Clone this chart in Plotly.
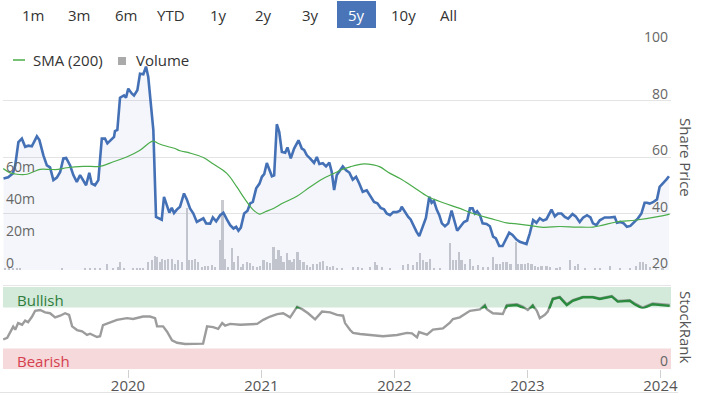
import plotly.graph_objects as go
import pandas as pd

# ---------------- data (dates given as decimal years) ----------------
price_t = [2019.064, 2019.099, 2019.134, 2019.152, 2019.176, 2019.202, 2019.227, 2019.251, 2019.277, 2019.315,
           2019.334, 2019.364, 2019.390, 2019.414, 2019.439, 2019.465, 2019.490, 2019.514, 2019.535, 2019.565,
           2019.589, 2019.615, 2019.640, 2019.664, 2019.685, 2019.709, 2019.727, 2019.752, 2019.777, 2019.803,
           2019.827, 2019.845, 2019.870, 2019.895, 2019.902, 2019.920, 2019.940, 2019.970, 2019.985, 2020.002,
           2020.028, 2020.045, 2020.070, 2020.090, 2020.115, 2020.135, 2020.152, 2020.178, 2020.190, 2020.210,
           2020.227, 2020.253, 2020.270, 2020.291, 2020.310, 2020.328, 2020.345, 2020.366, 2020.390, 2020.420,
           2020.441, 2020.465, 2020.490, 2020.516, 2020.541, 2020.565, 2020.586, 2020.616, 2020.636, 2020.661,
           2020.691, 2020.715, 2020.741, 2020.766, 2020.791, 2020.811, 2020.828, 2020.846, 2020.871, 2020.896,
           2020.916, 2020.936, 2020.961, 2020.986, 2021.004, 2021.021, 2021.041, 2021.061, 2021.079, 2021.096,
           2021.116, 2021.134, 2021.154, 2021.179, 2021.196, 2021.221, 2021.246, 2021.279, 2021.304, 2021.321,
           2021.342, 2021.366, 2021.396, 2021.417, 2021.436, 2021.462, 2021.486, 2021.511, 2021.529, 2021.547,
           2021.567, 2021.592, 2021.612, 2021.637, 2021.661, 2021.687, 2021.712, 2021.736, 2021.762, 2021.792,
           2021.822, 2021.847, 2021.872, 2021.897, 2021.922, 2021.942, 2021.967, 2021.992, 2022.017, 2022.042,
           2022.055, 2022.080, 2022.104, 2022.122, 2022.147, 2022.167, 2022.187, 2022.212, 2022.237, 2022.262,
           2022.280, 2022.297, 2022.318, 2022.337, 2022.357, 2022.380, 2022.405, 2022.430, 2022.455, 2022.472,
           2022.498, 2022.523, 2022.547, 2022.568, 2022.588, 2022.605, 2022.622, 2022.643, 2022.663, 2022.693,
           2022.718, 2022.742, 2022.763, 2022.788, 2022.813, 2022.838, 2022.863, 2022.888, 2022.918, 2022.943,
           2022.968, 2022.993, 2023.018, 2023.043, 2023.068, 2023.093, 2023.118, 2023.143, 2023.181, 2023.206,
           2023.230, 2023.256, 2023.281, 2023.306, 2023.339, 2023.363, 2023.393, 2023.418, 2023.448, 2023.474,
           2023.493, 2023.519, 2023.544, 2023.581, 2023.619, 2023.656, 2023.673, 2023.699, 2023.724, 2023.748,
           2023.774, 2023.799, 2023.831, 2023.857, 2023.881, 2023.899, 2023.919, 2023.944, 2023.974, 2023.994,
           2024.019, 2024.044, 2024.064]
price_v = [52.4, 52.8, 54.2, 57, 65.3, 66.5, 63.6, 64, 63.8, 67.3,
           66, 60.6, 57, 56.3, 51.8, 52.7, 54.7, 59.5, 59.7, 57,
           53.6, 51.2, 53.6, 51.8, 50, 54.4, 50.6, 50, 51.8, 66.5,
           66.5, 64.8, 66, 67.1, 69.2, 69.6, 81, 81.8, 81, 84.2,
           82.5, 81.8, 83.6, 89.5, 89.3, 92, 88.3, 76.5, 69.5, 38.8,
           38.5, 37.8, 45.9, 43, 40.3, 42, 40.2, 41.4, 42.4, 47.1,
           45, 41.8, 40, 37, 37.6, 38.3, 36.5, 36.4, 38.6, 37.2,
           39.4, 40.3, 37.9, 35.9, 34.7, 35.3, 33.9, 35, 40, 41,
           43.6, 44.1, 48.9, 50.6, 53, 53.9, 57.9, 55.1, 53.2, 53.5,
           71.6, 68.9, 61.8, 61.5, 63.4, 59.5, 63, 65.9, 63, 62.5,
           60.6, 59.5, 57.9, 60, 57.5, 57.8, 56.7, 58, 54.7, 48.3,
           53.6, 55.3, 56.7, 55.3, 54.5, 52, 53, 50.6, 47.7, 48.2,
           46.1, 44.1, 43.6, 42, 41.5, 40, 39.4, 40.5, 40.5, 41,
           42.4, 40.5, 38.8, 37.9, 35.3, 33.5, 32, 35, 38.4, 45.9,
           43.8, 44.5, 41.4, 39.5, 36.5, 35.5, 36.5, 41, 37, 33.9,
           35.5, 37, 37.5, 41.8, 41.8, 40, 40.8, 39.4, 36.5, 36.3,
           35.5, 31.8, 31.2, 28.5, 28.5, 30.8, 33.2, 32.4, 30.8, 30,
           29.6, 29.2, 33, 37.7, 36.7, 38.3, 37.5, 38, 41.4, 39,
           40, 40, 38.8, 38.2, 39.8, 39, 37, 38.5, 39.4, 38.6,
           36.5, 35.9, 37.6, 38.6, 38.6, 38.8, 36.7, 37, 36.5, 35.3,
           35.6, 36.8, 38.3, 40, 43.8, 43.8, 43.5, 44, 45, 49.4,
           50.6, 52, 53.2]

sma_t = [2019.062, 2019.114, 2019.164, 2019.240, 2019.287, 2019.339, 2019.414, 2019.474, 2019.540, 2019.664,
         2019.790, 2019.890, 2019.990, 2020.090, 2020.185, 2020.227, 2020.291, 2020.353, 2020.390, 2020.465,
         2020.565, 2020.640, 2020.741, 2020.816, 2020.878, 2020.941, 2020.986, 2021.029, 2021.091, 2021.166,
         2021.267, 2021.366, 2021.466, 2021.567, 2021.592, 2021.667, 2021.755, 2021.842, 2021.892, 2021.967,
         2022.042, 2022.142, 2022.255, 2022.367, 2022.492, 2022.592, 2022.718, 2022.843, 2022.905, 2022.993,
         2023.118, 2023.243, 2023.369, 2023.493, 2023.568, 2023.669, 2023.819, 2023.969, 2024.069]
sma_v = [55.9, 54.4, 53.9, 53.9, 54.7, 55.6, 55.6, 55.6, 56.2, 56.7,
         56.7, 58.3, 60, 62.4, 65.6, 64.8, 63.8, 63, 62.2, 61.4,
         59.8, 57.5, 54.2, 49.4, 45, 41.2, 39.8, 40.6, 41.8, 43.8,
         46.1, 49.4, 52.4, 54.7, 55.3, 56.5, 57.5, 57.2, 56.5, 54.2,
         52.4, 49.4, 45.9, 43.8, 41.8, 40, 38.3, 36.7, 36.4, 35.9,
         35.1, 35.4, 35.2, 35.2, 35.9, 37, 37.7, 38.8, 39.8]

vol_t = [2019.077, 2019.107, 2019.137, 2019.167, 2019.189, 2019.505, 2019.677, 2019.715, 2019.752, 2019.790,
         2019.842, 2019.887, 2019.925, 2019.940, 2019.970,
         2020.038, 2020.068, 2020.090, 2020.113, 2020.150, 2020.180, 2020.203, 2020.218, 2020.240, 2020.255,
         2020.278, 2020.300, 2020.330, 2020.353, 2020.375, 2020.405, 2020.441, 2020.458, 2020.480, 2020.503,
         2020.526, 2020.556, 2020.578, 2020.601, 2020.631, 2020.653, 2020.691, 2020.708, 2020.728, 2020.751,
         2020.779, 2020.796, 2020.824, 2020.846, 2020.863, 2020.891, 2020.916, 2020.938, 2020.966, 2020.991,
         2021.016, 2021.041, 2021.066, 2021.091, 2021.111, 2021.128, 2021.149, 2021.166, 2021.191, 2021.211,
         2021.229, 2021.246, 2021.271, 2021.291, 2021.316, 2021.342, 2021.366, 2021.391, 2021.417, 2021.441,
         2021.462, 2021.492, 2021.517, 2021.541, 2021.567, 2021.604, 2021.689, 2021.727, 2021.757, 2021.817,
         2021.854, 2021.869, 2021.907, 2021.967,
         2022.065, 2022.102, 2022.140, 2022.170, 2022.192, 2022.217, 2022.242, 2022.267, 2022.297, 2022.342,
         2022.417, 2022.440, 2022.462, 2022.485, 2022.505, 2022.530, 2022.568, 2022.590, 2022.628, 2022.665,
         2022.703, 2022.742, 2022.768, 2022.793, 2022.818, 2022.843, 2022.873, 2022.913, 2022.932, 2022.956,
         2022.981,
         2023.005, 2023.031, 2023.056, 2023.078, 2023.106, 2023.143, 2023.168, 2023.218, 2023.243, 2023.318,
         2023.356, 2023.378, 2023.431, 2023.506, 2023.544, 2023.619, 2023.694, 2023.769, 2023.819, 2023.844,
         2023.866, 2023.894, 2023.919, 2023.969, 2024.016]
vol_m = [1, 0.8, 1, 0.8, 0.8, 1, 1.5, 1, 1, 1.5,
         4, 1, 2, 5, 1,
         1, 1.2, 1, 1.5, 5, 6, 9, 8, 5, 7,
         6, 7, 7, 4, 6, 5, 38.5, 6, 6, 7,
         5, 2, 2.5, 2.5, 3, 2, 18.7, 44, 7, 2,
         13.5, 5, 9, 2, 4, 5, 4.5, 2.5, 2, 2.5,
         6, 5, 4.5, 14.6, 7, 12.5, 8.5, 5, 10.5, 6,
         5, 7, 11.5, 6, 5, 3, 2, 4, 4, 5,
         5.5, 2.5, 2, 2.5, 1.5, 1.5, 2, 2, 1.5, 2,
         5, 3, 2, 1,
         3, 4, 3, 5, 10.6, 6, 5, 7, 1, 1,
         16.7, 6, 6, 11, 6.5, 4, 7, 2.5, 3, 2,
         2, 8.3, 3.5, 4, 5, 5, 4, 17.7, 4, 3.5,
         4,
         4.5, 3.5, 2.5, 2, 2.5, 2.5, 2, 1, 2, 6,
         2.5, 3.5, 1, 1, 1, 2.5, 1, 1, 2.5, 5,
         5, 3.5, 2, 1, 1]

rank_t = [2019.062, 2019.092, 2019.137, 2019.152, 2019.174, 2019.204, 2019.227, 2019.249, 2019.279, 2019.302,
          2019.339, 2019.377, 2019.414, 2019.452, 2019.490, 2019.527, 2019.557, 2019.580, 2019.617, 2019.655,
          2019.692, 2019.715, 2019.767, 2019.790, 2019.812, 2019.865, 2019.917, 2019.992, 2020.038, 2020.113,
          2020.165, 2020.203, 2020.218, 2020.263, 2020.293, 2020.330, 2020.368, 2020.428, 2020.541, 2020.563,
          2020.593, 2020.638, 2020.676, 2020.706, 2020.728, 2020.766, 2020.841, 2020.916, 2020.968, 2021.014,
          2021.066, 2021.119, 2021.164, 2021.216, 2021.269, 2021.306, 2021.351, 2021.404, 2021.456, 2021.517,
          2021.569, 2021.614, 2021.629, 2021.667, 2021.689, 2021.742, 2021.839, 2021.914, 2022.020, 2022.095,
          2022.132, 2022.170, 2022.185, 2022.245, 2022.290, 2022.365, 2022.417, 2022.440, 2022.492, 2022.568,
          2022.643, 2022.680, 2022.695, 2022.740, 2022.815, 2022.845, 2022.920, 2022.965, 2023.003, 2023.040,
          2023.071, 2023.093, 2023.131, 2023.153, 2023.191, 2023.243, 2023.296, 2023.341, 2023.416, 2023.491,
          2023.544, 2023.634, 2023.679, 2023.769, 2023.806, 2023.866, 2023.941, 2024.009, 2024.069]
rank_v = [36, 38, 51.6, 48, 56, 54, 59, 57, 64, 71,
          72, 69, 68, 63, 65, 68, 66, 52, 47.5, 46,
          41.5, 43, 39, 40, 53.6, 57, 60, 62, 61, 64,
          64, 62, 52, 52, 45.5, 35, 32, 30.5, 30.5, 31,
          52, 51, 49, 56, 53, 55, 54, 55, 55, 60,
          64, 67, 68, 63, 76, 73, 68, 60.5, 70, 69,
          66, 65, 56, 47.5, 44, 42.7, 41.5, 40, 41.5, 44,
          43.5, 38.6, 45, 42, 48, 49.6, 56.5, 61, 63, 71,
          72.7, 78, 73, 68, 67, 78, 79, 76, 72, 78,
          71, 62, 66, 70, 86, 88, 79, 84, 88, 88,
          86, 89, 83, 84, 80, 75, 80, 79, 78]

price_ticks = [20, 40, 60, 80, 100]
volume_ticks = [0, 20, 40, 60]
volume_tick_labels = ["0", "20m", "40m", "60m"]
year_ticks = ["2020", "2021", "2022", "2023", "2024"]
range_buttons = ["1m", "3m", "6m", "YTD", "1y", "2y", "3y", "5y", "10y", "All"]
selected_button = "5y"
legend_items = ["SMA (200)", "Volume"]
bullish_band = [75, 100]
bearish_band = [0, 25]


def to_date(d):
    y = int(d)
    start = pd.Timestamp(year=y, month=1, day=1)
    end = pd.Timestamp(year=y + 1, month=1, day=1)
    return start + (end - start) * (d - y)


price_x = [to_date(d) for d in price_t]
sma_x = [to_date(d) for d in sma_t]
vol_x = [to_date(d) for d in vol_t]
rank_x = [to_date(d) for d in rank_t]

W, H = 705, 394
FONT = "Open Sans, Noto Sans, sans-serif"


def py(px):
    return 1 - px / H


def pxx(px):
    return px / W


PANEL_TOP = 44                      # price 100 gridline
vol_top = (270 - PANEL_TOP) / 1.6   # 1.6 px per million

fig = go.Figure()

fig.add_trace(go.Bar(
    x=vol_x, y=vol_m, name="Volume", xaxis="x", yaxis="y",
    marker=dict(color="#c9cacf", line=dict(width=0)),
    width=6 * 86400000, showlegend=False,
))
fig.add_trace(go.Scatter(
    x=price_x, y=price_v, name="Share Price", xaxis="x", yaxis="y2",
    mode="lines", line=dict(color="#4470b6", width=2.6),
    fill="tozeroy", fillcolor="rgba(70,110,190,0.06)", showlegend=False,
))
fig.add_trace(go.Scatter(
    x=sma_x, y=sma_v, name="SMA (200)", xaxis="x", yaxis="y2",
    mode="lines", line=dict(color="#4aac4a", width=1.2, shape="spline"),
    showlegend=False,
))
fig.add_trace(go.Scatter(
    x=rank_x, y=rank_v, name="StockRank", xaxis="x", yaxis="y3",
    mode="lines", line=dict(color="#9c9c9c", width=2.4), showlegend=False,
))
fig.add_trace(go.Scatter(
    x=rank_x, y=rank_v, name="StockRank bullish", xaxis="x", yaxis="y4",
    mode="lines", line=dict(color="#2a8a3e", width=2.4), showlegend=False,
))

x_range = ["2019-01-23", "2024-01-30"]
xdom = [pxx(3), pxx(671)]

annotations = []
btn_x = [33, 79, 126, 171, 218, 263, 310, 357, 403, 448]
for label, bx in zip(range_buttons, btn_x):
    annotations.append(dict(
        text=label, x=pxx(bx), y=py(15), xref="paper", yref="paper",
        showarrow=False, xanchor="center", yanchor="middle",
        font=dict(family=FONT, size=15, color="#ffffff" if label == selected_button else "#333333"),
    ))
annotations += [
    dict(text=legend_items[0], x=pxx(31), y=py(60), xref="paper", yref="paper", showarrow=False,
         xanchor="left", yanchor="middle", font=dict(family=FONT, size=15, color="#333333")),
    dict(text=legend_items[1], x=pxx(134), y=py(60), xref="paper", yref="paper", showarrow=False,
         xanchor="left", yanchor="middle", font=dict(family=FONT, size=15, color="#333333")),
    dict(text="Share Price", x=pxx(686), y=py(157), xref="paper", yref="paper", showarrow=False,
         textangle=90, font=dict(family=FONT, size=15, color="#555555"), xanchor="center", yanchor="middle"),
    dict(text="StockRank", x=pxx(686), y=py(327), xref="paper", yref="paper", showarrow=False,
         textangle=90, font=dict(family=FONT, size=15, color="#555555"), xanchor="center", yanchor="middle"),
    dict(text="Bullish", x=pxx(15), y=py(300), xref="paper", yref="paper", showarrow=False,
         font=dict(family=FONT, size=15, color="#2f7d3c"), xanchor="left", yanchor="middle"),
    dict(text="Bearish", x=pxx(15), y=py(361), xref="paper", yref="paper", showarrow=False,
         font=dict(family=FONT, size=15, color="#d6404e"), xanchor="left", yanchor="middle"),
]

shapes = [
    dict(type="rect", xref="x domain", yref="y3", x0=0, x1=1, y0=bullish_band[0], y1=bullish_band[1],
         fillcolor="#d3e9da", line=dict(width=0), layer="below"),
    dict(type="rect", xref="x domain", yref="y3", x0=0, x1=1, y0=bearish_band[0], y1=bearish_band[1],
         fillcolor="#f5d9db", line=dict(width=0), layer="below"),
    dict(type="line", xref="paper", yref="paper", x0=xdom[0], x1=xdom[1], y0=py(285.5), y1=py(285.5),
         line=dict(color="#e6e6e6", width=1), layer="below"),
    dict(type="line", xref="paper", yref="paper", x0=0, x1=pxx(678), y0=py(392.5), y1=py(392.5),
         line=dict(color="#e3e3e3", width=1), layer="below"),
    dict(type="rect", xref="paper", yref="paper", x0=pxx(337), x1=pxx(376), y0=py(28), y1=py(1),
         fillcolor="#4a74b8", line=dict(width=0), layer="below"),
    # legend symbols
    dict(type="line", xref="paper", yref="paper", x0=pxx(13), x1=pxx(25), y0=py(60), y1=py(60),
         line=dict(color="#4aac4a", width=1.5)),
    dict(type="rect", xref="paper", yref="paper", x0=pxx(118), x1=pxx(126), y0=py(65), y1=py(57),
         fillcolor="#aaaaaa", line=dict(width=0)),
]

fig.update_layout(
    template="none",
    width=W, height=H, autosize=False,
    margin=dict(l=0, r=0, t=0, b=0, pad=0, autoexpand=False),
    paper_bgcolor="white", plot_bgcolor="rgba(0,0,0,0)",
    font=dict(family=FONT, color="#333333"),
    bargap=0,
    showlegend=False,
    xaxis=dict(type="date", domain=xdom, range=x_range, anchor="y3", automargin=False,
               showgrid=False, zeroline=False, showline=False,
               ticks="outside", ticklen=8, tickcolor="#d0d0d0", tickwidth=1,
               tickvals=[pd.Timestamp(f"{y}-01-01") for y in year_ticks], ticktext=year_ticks,
               ticklabeloverflow="allow", ticklabelstandoff=-5,
               tickfont=dict(family=FONT, size=15, color="#555555")),
    yaxis=dict(domain=[py(270), py(PANEL_TOP)], range=[0, vol_top], anchor="x", side="left",
               automargin=False,
               tickvals=volume_ticks, ticktext=volume_tick_labels, ticklabelposition="inside top",
               ticklabeloverflow="allow", ticklabelshift=3,
               showgrid=False, zeroline=False, showline=False, ticks="",
               tickfont=dict(family=FONT, size=14, color="#666666")),
    yaxis2=dict(overlaying="y", anchor="x", side="right", range=[20, 100], automargin=False,
                tickvals=price_ticks, ticklabelposition="inside top",
                ticklabeloverflow="allow", ticklabelshift=3,
                showgrid=True, gridcolor="#e4e4e4", gridwidth=1, zeroline=False, showline=False, ticks="",
                tickfont=dict(family=FONT, size=14, color="#666666")),
    yaxis3=dict(domain=[py(369), py(287)], range=[0, 100], anchor="x", side="right", automargin=False,
                tickvals=[0], ticklabelposition="inside top",
                ticklabeloverflow="allow", ticklabelshift=2,
                showgrid=False, zeroline=False, showline=False, ticks="",
                tickfont=dict(family=FONT, size=14, color="#666666")),
    yaxis4=dict(domain=[py(308.5), py(287)], range=[bullish_band[0], bullish_band[1]], anchor="x",
                automargin=False, visible=False, showgrid=False, zeroline=False),
    annotations=annotations,
    shapes=shapes,
)

fig.write_html("out.html", config={"responsive": False, "displayModeBar": False},
               post_script="document.body.style.margin='0';")
